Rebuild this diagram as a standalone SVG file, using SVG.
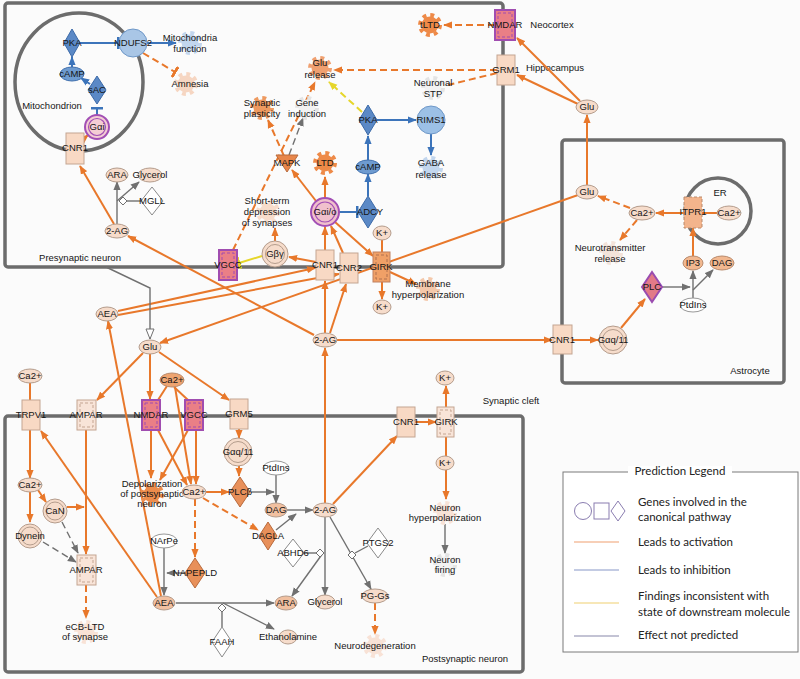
<svg xmlns="http://www.w3.org/2000/svg" width="800" height="679" viewBox="0 0 800 679">
<style>
.box{fill:none;stroke:#6c6c6c;stroke-width:3.5}
.t{font-family:"Liberation Sans",Arial,sans-serif;font-size:9.5px;fill:#151515;text-anchor:middle}
.lbl{font-family:"Liberation Sans",Arial,sans-serif;font-size:9.5px;fill:#151515}
.lg{font-family:Lato,"Liberation Sans",sans-serif;font-size:11.5px;fill:#222}
.o{stroke:#e8782b;stroke-width:2;fill:none}
.b{stroke:#3c74ba;stroke-width:2;fill:none}
.g{stroke:#707070;stroke-width:1.4;fill:none}
.y{stroke:#e6d62a;stroke-width:2;fill:none}
.d{stroke-dasharray:7 4}
.ch{fill:#f6dccb;stroke:#b49c8c;stroke-width:1}
.chm{fill:#f1c0a0;stroke:#b49c8c;stroke-width:1}
.cho{fill:#eea470;stroke:#b88a6c;stroke-width:1}
.chw{fill:#fff;stroke:#999;stroke-width:1}
.chb{fill:#6e9bd0;stroke:#3f6fad;stroke-width:1}
.rl{fill:#f8d9c4;stroke:#c4a592;stroke-width:1}
.rp{fill:#ea7f86;stroke:#a04db0;stroke-width:2}
.in{fill:none;stroke-width:1;stroke-dasharray:3 2}
.dw{fill:#fff;stroke:#8a8a8a;stroke-width:1}
.dbl{fill:#5b89c6;stroke:#3c6aa8;stroke-width:1}
.dor{fill:#e8905a;stroke:#b86a3c;stroke-width:1}
</style>
<defs>
<marker id="aO" viewBox="0 0 10 8" refX="9" refY="4" markerWidth="9" markerHeight="8" markerUnits="userSpaceOnUse" orient="auto"><path d="M0,0L10,4L0,8z" fill="#e8782b"/></marker>
<marker id="aB" viewBox="0 0 10 8" refX="9" refY="4" markerWidth="9" markerHeight="8" markerUnits="userSpaceOnUse" orient="auto"><path d="M0,0L10,4L0,8z" fill="#3c74ba"/></marker>
<marker id="aG" viewBox="0 0 10 8" refX="9" refY="4" markerWidth="9" markerHeight="8" markerUnits="userSpaceOnUse" orient="auto"><path d="M0,0L10,4L0,8z" fill="#707070"/></marker>
<marker id="aY" viewBox="0 0 10 8" refX="9" refY="4" markerWidth="9" markerHeight="8" markerUnits="userSpaceOnUse" orient="auto"><path d="M0,0L10,4L0,8z" fill="#e6d62a"/></marker>
<marker id="tB" viewBox="0 0 3 12" refX="1.5" refY="6" markerWidth="3" markerHeight="12" markerUnits="userSpaceOnUse" orient="auto"><rect width="3" height="12" fill="#3c74ba"/></marker>
<marker id="tO" viewBox="0 0 3 12" refX="1.5" refY="6" markerWidth="3" markerHeight="12" markerUnits="userSpaceOnUse" orient="auto"><rect width="3" height="12" fill="#e8782b"/></marker>
<marker id="tY" viewBox="0 0 3 12" refX="1.5" refY="6" markerWidth="3" markerHeight="12" markerUnits="userSpaceOnUse" orient="auto"><rect width="3" height="12" fill="#e6d62a"/></marker>
<marker id="tri" viewBox="0 0 12 10" refX="11" refY="5" markerWidth="12" markerHeight="10" markerUnits="userSpaceOnUse" orient="auto"><path d="M1,1L11,5L1,9z" fill="#fff" stroke="#707070" stroke-width="1"/></marker>
<g id="gear"><circle r="8.5"/><circle r="10" fill="none" stroke="currentColor" stroke-width="4" stroke-dasharray="3.9 3.95"/></g>
<path id="sd" d="M0,-4L4,0L0,4L-4,0z" fill="#fff" stroke="#707070" stroke-width="1"/>
</defs>
<rect width="800" height="679" fill="#fbfbfb"/>

<g id="compartments">
<rect class="box" x="5" y="3" width="498" height="264" rx="3"/>
<ellipse cx="79" cy="82" rx="64" ry="69" fill="none" stroke="#6c6c6c" stroke-width="3.5"/>
<rect class="box" x="562" y="140" width="222" height="243" rx="3"/>
<circle cx="718" cy="211" r="33" fill="none" stroke="#6c6c6c" stroke-width="3.5"/>
<rect class="box" x="5" y="416" width="518" height="256" rx="3"/>
<text class="t" x="52" y="109">Mitochondrion</text>
<text class="t" x="80" y="261">Presynaptic neuron</text>
<text class="t" x="552" y="28">Neocortex</text>
<text class="t" x="555" y="71">Hippocampus</text>
<text class="t" x="720" y="196">ER</text>
<text class="t" x="750" y="374">Astrocyte</text>
<text class="t" x="511" y="404">Synaptic cleft</text>
<text class="t" x="465" y="662">Postsynaptic neuron</text>
</g>

<g id="connectors">
<line class="b" x1="80" y1="43" x2="118" y2="43" marker-end="url(#tB)"/>
<line class="b" x1="147" y1="43" x2="176" y2="43" marker-end="url(#aB)"/>
<line class="o d" x1="143" y1="53" x2="175" y2="72" marker-end="url(#tO)"/>
<line class="b" x1="72" y1="67" x2="72" y2="57" marker-end="url(#aB)"/>
<line class="b" x1="90" y1="84" x2="81" y2="78" marker-end="url(#aB)"/>
<line class="b" x1="97" y1="115" x2="97" y2="108" marker-end="url(#tB)"/>
<line class="o" x1="80" y1="142" x2="88" y2="135" marker-end="url(#aO)"/>
<line class="o" x1="114" y1="224" x2="80" y2="166" marker-end="url(#aO)"/>
<line class="g" x1="117" y1="224" x2="117" y2="182" marker-end="url(#aG)"/>
<line class="g" x1="117" y1="201" x2="139" y2="182" marker-end="url(#aG)"/>
<line class="g" x1="141" y1="201" x2="127" y2="201"/>
<use href="#sd" x="123" y="201"/>
<line class="o" x1="314" y1="335" x2="128" y2="236" marker-end="url(#aO)"/>
<line class="o" x1="118" y1="311" x2="315" y2="268" marker-end="url(#aO)"/>
<line class="o" x1="118" y1="315" x2="339" y2="274" marker-end="url(#aO)"/>
<line class="o" x1="578" y1="195" x2="160" y2="343" marker-end="url(#aO)"/>
<line class="o d" x1="233" y1="250" x2="315" y2="82" marker-end="url(#aO)"/>
<line class="y" x1="262" y1="256" x2="239" y2="263" marker-end="url(#tY)"/>
<line class="o" x1="275" y1="241" x2="275" y2="228" marker-end="url(#aO)"/>
<line class="o" x1="316" y1="262" x2="289" y2="257" marker-end="url(#aO)"/>
<line class="o" x1="325" y1="250" x2="325" y2="227" marker-end="url(#aO)"/>
<line class="o" x1="343" y1="253" x2="331" y2="226" marker-end="url(#aO)"/>
<line class="o" x1="335" y1="222" x2="373" y2="256" marker-end="url(#aO)"/>
<line class="o" x1="316" y1="201" x2="292" y2="170" marker-end="url(#aO)"/>
<line class="o" x1="325" y1="198" x2="325" y2="177" marker-end="url(#aO)"/>
<line class="b" x1="339" y1="212" x2="357" y2="212" marker-end="url(#tB)"/>
<line class="b" x1="368" y1="196" x2="368" y2="174" marker-end="url(#aB)"/>
<line class="b" x1="368" y1="160" x2="368" y2="136" marker-end="url(#aB)"/>
<line class="b" x1="377" y1="120" x2="416" y2="120" marker-end="url(#aB)"/>
<line class="b" x1="431" y1="134" x2="431" y2="155" marker-end="url(#aB)"/>
<line class="y d" x1="362" y1="112" x2="329" y2="82" marker-end="url(#aY)"/>
<line class="o d" x1="284" y1="156" x2="268" y2="120" marker-end="url(#aO)"/>
<line class="g d" x1="289" y1="155" x2="303" y2="118" marker-end="url(#aG)"/>
<line class="o d" x1="497" y1="70" x2="334" y2="70" marker-end="url(#aO)"/>
<line class="o d" x1="497" y1="73" x2="448" y2="85"/>
<line class="o d" x1="495" y1="25" x2="444" y2="25" marker-end="url(#aO)"/>
<line class="o" x1="580" y1="101" x2="517" y2="38" marker-end="url(#aO)"/>
<line class="o" x1="578" y1="104" x2="517" y2="75" marker-end="url(#aO)"/>
<line class="o" x1="587" y1="185" x2="587" y2="115" marker-end="url(#aO)"/>
<line class="o" x1="382" y1="282" x2="382" y2="299" marker-end="url(#aO)"/>
<line class="o" x1="382" y1="240" x2="382" y2="252"/>
<line class="o" x1="390" y1="272" x2="416" y2="284" marker-end="url(#aO)"/>
<line class="o" x1="325" y1="333" x2="325" y2="281" marker-end="url(#aO)"/>
<line class="o" x1="330" y1="333" x2="346" y2="284" marker-end="url(#aO)"/>
<line class="o" x1="337" y1="340" x2="552" y2="340" marker-end="url(#aO)"/>
<line class="o" x1="572" y1="340" x2="598" y2="340" marker-end="url(#aO)"/>
<line class="o" x1="621" y1="328" x2="645" y2="299" marker-end="url(#aO)"/>
<line class="g" x1="662" y1="287" x2="690" y2="287" marker-end="url(#aG)"/>
<line class="g" x1="693" y1="298" x2="693" y2="271" marker-end="url(#aG)"/>
<line class="g" x1="693" y1="290" x2="713" y2="270" marker-end="url(#aG)"/>
<line class="o" x1="693" y1="256" x2="693" y2="228" marker-end="url(#aO)"/>
<line class="o" x1="717" y1="213" x2="702" y2="213"/>
<line class="o" x1="684" y1="213" x2="656" y2="213" marker-end="url(#aO)"/>
<line class="o d" x1="630" y1="208" x2="598" y2="196" marker-end="url(#aO)"/>
<line class="o d" x1="637" y1="220" x2="620" y2="240" marker-end="url(#aO)"/>
<polyline class="g" points="106,267 150,288 150,339" marker-end="url(#tri)"/>
<line class="o" x1="143" y1="353" x2="97" y2="400" marker-end="url(#aO)"/>
<line class="o" x1="150" y1="354" x2="150" y2="399" marker-end="url(#aO)"/>
<line class="o" x1="159" y1="352" x2="229" y2="400" marker-end="url(#aO)"/>
<line class="o" x1="167" y1="386" x2="158" y2="400"/>
<line class="o" x1="174" y1="387" x2="188" y2="400"/>
<line class="o" x1="175" y1="387" x2="191" y2="484" marker-end="url(#aO)"/>
<line class="o" x1="151" y1="430" x2="151" y2="478" marker-end="url(#aO)"/>
<line class="o" x1="158" y1="430" x2="187" y2="485" marker-end="url(#aO)"/>
<line class="o" x1="196" y1="430" x2="196" y2="484" marker-end="url(#aO)"/>
<line class="o" x1="188" y1="430" x2="160" y2="480" marker-end="url(#aO)"/>
<line class="o" x1="239" y1="429" x2="239" y2="438" marker-end="url(#aO)"/>
<line class="o" x1="239" y1="466" x2="239" y2="476" marker-end="url(#aO)"/>
<line class="o" x1="206" y1="492" x2="229" y2="492" marker-end="url(#aO)"/>
<line class="g" x1="251" y1="492" x2="274" y2="492" marker-end="url(#aG)"/>
<line class="g" x1="276" y1="475" x2="276" y2="503" marker-end="url(#aG)"/>
<line class="o d" x1="203" y1="498" x2="258" y2="530" marker-end="url(#aO)"/>
<line class="o d" x1="195" y1="499" x2="195" y2="557" marker-end="url(#aO)"/>
<line class="g" x1="276" y1="530" x2="296" y2="514" marker-end="url(#aG)"/>
<line class="g" x1="287" y1="510" x2="313" y2="510" marker-end="url(#aG)"/>
<line class="o" x1="325" y1="503" x2="325" y2="348" marker-end="url(#aO)"/>
<line class="o" x1="333" y1="504" x2="397" y2="436" marker-end="url(#aO)"/>
<line class="o" x1="415" y1="422" x2="436" y2="422" marker-end="url(#aO)"/>
<line class="o" x1="446" y1="407" x2="446" y2="386" marker-end="url(#aO)"/>
<line class="o" x1="446" y1="437" x2="446" y2="456"/>
<line class="o" x1="446" y1="470" x2="446" y2="499" marker-end="url(#aO)"/>
<line class="g" x1="445" y1="524" x2="445" y2="553" marker-end="url(#aG)"/>
<line class="g" x1="325" y1="517" x2="325" y2="595" marker-end="url(#aG)"/>
<line class="g" x1="323" y1="553" x2="292" y2="596" marker-end="url(#aG)"/>
<line class="g" x1="304" y1="553" x2="316" y2="553"/>
<use href="#sd" x="320" y="553"/>
<line class="g" x1="330" y1="517" x2="371" y2="589" marker-end="url(#aG)"/>
<line class="g" x1="368" y1="546" x2="355" y2="553"/>
<use href="#sd" x="352" y="555"/>
<line class="o d" x1="375" y1="603" x2="375" y2="634" marker-end="url(#aO)"/>
<line class="g" x1="164" y1="548" x2="164" y2="595" marker-end="url(#aG)"/>
<line class="g" x1="185" y1="573" x2="167" y2="573" marker-end="url(#aG)"/>
<line class="g" x1="176" y1="603" x2="274" y2="603" marker-end="url(#aG)"/>
<line class="g" x1="223" y1="603" x2="274" y2="629" marker-end="url(#aG)"/>
<line class="g" x1="222" y1="627" x2="222" y2="612"/>
<use href="#sd" x="222" y="608"/>
<line class="o" x1="161" y1="596" x2="108" y2="321" marker-end="url(#aO)"/>
<line class="o" x1="157" y1="597" x2="41" y2="431" marker-end="url(#aO)"/>
<line class="o" x1="30" y1="383" x2="30" y2="400"/>
<line class="o" x1="30" y1="430" x2="30" y2="478" marker-end="url(#aO)"/>
<line class="o" x1="38" y1="490" x2="46" y2="502" marker-end="url(#aO)"/>
<line class="o" x1="30" y1="492" x2="30" y2="522" marker-end="url(#aO)"/>
<line class="o" x1="67" y1="507" x2="84" y2="507" marker-end="url(#aO)"/>
<line class="o" x1="86" y1="430" x2="86" y2="554" marker-end="url(#aO)"/>
<line class="g d" x1="62" y1="522" x2="78" y2="553" marker-end="url(#aG)"/>
<line class="g d" x1="43" y1="542" x2="76" y2="562" marker-end="url(#aG)"/>
<line class="o d" x1="86" y1="585" x2="86" y2="618" marker-end="url(#aO)"/>
</g>

<g id="n-PKA-m"><path class="dbl" d="M72,29L80,43L72,57L64,43z" fill="#7ba3d3"/><text class="t" x="72" y="46">PKA</text></g>
<g id="n-NDUFS2"><circle cx="133" cy="43" r="14" fill="#a9c6e6" stroke="#6f98c8"/><text class="t" x="133" y="46">NDUFS2</text></g>
<g id="n-mitofn"><use href="#gear" x="190" y="43" fill="#c2d6ee" color="#c2d6ee"/><text class="t" x="190" y="41">Mitochondria</text><text class="t" x="190" y="52">function</text></g>
<g id="n-amnesia"><use href="#gear" x="186" y="84" fill="#f6d6c2" color="#f6d6c2"/><text class="t" x="190" y="87">Amnesia</text></g>
<g id="n-cAMP-m"><ellipse class="chb" cx="72" cy="74" rx="12" ry="7"/><text class="t" x="72" y="77">cAMP</text></g>
<g id="n-sAC"><path class="dbl" d="M97,76L106,90L97,104L88,90z"/><text class="t" x="97" y="93">sAC</text></g>
<g id="n-Gai"><circle cx="97" cy="127" r="12" fill="#f4cdd4" stroke="#a24fb5" stroke-width="2"/><circle cx="97" cy="127" r="8.5" fill="none" stroke="#a24fb5" stroke-width="1.2"/><text class="t" x="97" y="130">Gαi</text></g>
<g id="n-CNR1-m"><rect class="rl" x="66" y="133" width="18" height="31"/><text class="t" x="75" y="151">CNR1</text></g>
<g id="n-ARA-p"><ellipse class="ch" cx="117" cy="175" rx="11" ry="7"/><text class="t" x="117" y="178">ARA</text></g>
<g id="n-Glycerol-p"><ellipse class="ch" cx="150" cy="175" rx="12" ry="7"/><text class="t" x="150" y="178">Glycerol</text></g>
<g id="n-MGLL"><path class="dw" d="M152,187L163,201L152,215L141,201z"/><text class="t" x="152" y="204">MGLL</text></g>
<g id="n-2AG-p"><ellipse class="ch" cx="117" cy="231" rx="12" ry="7"/><text class="t" x="117" y="234">2-AG</text></g>
<g id="n-VGCC-p"><rect class="rp" x="219" y="250" width="18" height="30"/><rect class="in" x="222" y="253" width="12" height="24" stroke="#a04db0"/><text class="t" x="228" y="268">VGCC</text></g>
<g id="n-Gbg"><circle cx="275" cy="254" r="13" fill="#f6dccb" stroke="#b49c8c"/><circle cx="275" cy="254" r="9.5" fill="none" stroke="#b49c8c"/><text class="t" x="275" y="257">Gβγ</text></g>
<g id="n-STD"><use href="#gear" x="268" y="212" fill="#f7dccb" color="#f7dccb"/><text class="t" x="267" y="204">Short-term</text><text class="t" x="267" y="215">depression</text><text class="t" x="267" y="226">of synapses</text></g>
<g id="n-synplast"><use href="#gear" x="262" y="108" fill="#ee9a60" color="#ee9a60"/><text class="t" x="262" y="106">Synaptic</text><text class="t" x="262" y="117">plasticity</text></g>
<g id="n-geneind"><use href="#gear" x="307" y="108" fill="#f2f2f2" color="#e4e4e4"/><text class="t" x="307" y="106">Gene</text><text class="t" x="307" y="117">induction</text></g>
<g id="n-glurel"><use href="#gear" x="320" y="68" fill="#f0a070" color="#f0a070"/><text class="t" x="320" y="66">Glu</text><text class="t" x="320" y="78">release</text></g>
<g id="n-MAPK"><path d="M276,155L298,155L287,172z" fill="#e8864a" stroke="#b86a3c"/><text class="t" x="287" y="166">MAPK</text></g>
<g id="n-LTD-p"><use href="#gear" x="325" y="163" fill="#ee8a48" color="#ee8a48"/><text class="t" x="325" y="166">LTD</text></g>
<g id="n-cAMP-p"><ellipse class="chb" cx="368" cy="167" rx="12" ry="7"/><text class="t" x="368" y="170">cAMP</text></g>
<g id="n-PKA-p"><path class="dbl" d="M368,105L377,120L368,135L359,120z" fill="#7ba3d3"/><text class="t" x="368" y="123">PKA</text></g>
<g id="n-RIMS1"><circle cx="431" cy="120" r="14" fill="#9cc0e6" stroke="#6f98c8"/><text class="t" x="431" y="123">RIMS1</text></g>
<g id="n-GABArel"><use href="#gear" x="431" y="168" fill="#c2d6ee" color="#c2d6ee"/><text class="t" x="431" y="166">GABA</text><text class="t" x="431" y="178">release</text></g>
<g id="n-tLTD"><use href="#gear" x="430" y="25" fill="#ee8a48" color="#ee8a48"/><text class="t" x="430" y="28">tLTD</text></g>
<g id="n-NMDAR-p"><rect class="rp" x="495" y="10" width="20" height="30"/><rect class="in" x="498" y="13" width="14" height="24" stroke="#a04db0"/><text class="t" x="505" y="28">NMDAR</text></g>
<g id="n-GRM1"><rect class="rl" x="497" y="55" width="18" height="30"/><text class="t" x="506" y="73">GRM1</text></g>
<g id="n-STP"><use href="#gear" x="433" y="88" fill="#f2f2f2" color="#e4e4e4"/><text class="t" x="433" y="86">Neuronal</text><text class="t" x="433" y="97">STP</text></g>
<g id="n-Glu-top"><ellipse class="ch" cx="587" cy="107" rx="11" ry="7"/><text class="t" x="587" y="110">Glu</text></g>
<g id="n-Gaio"><circle cx="325" cy="212" r="14" fill="#f0c0cc" stroke="#a24fb5" stroke-width="2"/><circle cx="325" cy="212" r="10" fill="none" stroke="#a24fb5" stroke-width="1.2"/><text class="t" x="325" y="215">Gαi/o</text></g>
<g id="n-ADCY"><path class="dbl" d="M368,196L378,212L368,228L358,212z"/><text class="t" x="370" y="215">ADCY</text></g>
<g id="n-CNR1-p"><rect class="rl" x="316" y="250" width="18" height="30"/><text class="t" x="325" y="268">CNR1</text></g>
<g id="n-CNR2"><rect class="rl" x="340" y="253" width="18" height="30"/><text class="t" x="349" y="271">CNR2</text></g>
<g id="n-GIRK-p"><rect x="373" y="252" width="17" height="30" fill="#f0a067" stroke="#c08060"/><rect class="in" x="376" y="255" width="11" height="24" stroke="#b07050"/><text class="t" x="381" y="270">GIRK</text></g>
<g id="n-K-p1"><ellipse class="ch" cx="382" cy="233" rx="9" ry="7"/><text class="t" x="382" y="236">K+</text></g>
<g id="n-K-p2"><ellipse class="ch" cx="382" cy="307" rx="9" ry="7"/><text class="t" x="382" y="310">K+</text></g>
<g id="n-memhyp"><use href="#gear" x="428" y="289" fill="#f4c8aa" color="#f4c8aa"/><text class="t" x="428" y="287">Membrane</text><text class="t" x="428" y="298">hyperpolarization</text></g>

<g id="n-Glu-a"><ellipse class="ch" cx="587" cy="192" rx="11" ry="7"/><text class="t" x="587" y="195">Glu</text></g>
<g id="n-Ca-a"><ellipse class="ch" cx="642" cy="213" rx="13" ry="7"/><text class="t" x="642" y="216">Ca2+</text></g>
<g id="n-ITPR1"><rect x="684" y="197" width="18" height="31" fill="#f3b48c" stroke="#b88a6c" stroke-dasharray="3 2"/><text class="t" x="693" y="215">ITPR1</text></g>
<g id="n-Ca-ER"><ellipse class="ch" cx="729" cy="213" rx="12" ry="7"/><text class="t" x="729" y="216">Ca2+</text></g>
<g id="n-NTrel"><use href="#gear" x="611" y="253" fill="#f3e3da" color="#f3e3da"/><text class="t" x="610" y="251">Neurotransmitter</text><text class="t" x="610" y="262">release</text></g>
<g id="n-IP3"><ellipse cx="693" cy="263" rx="10" ry="7" fill="#f2b890" stroke="#b88a6c"/><text class="t" x="693" y="266">IP3</text></g>
<g id="n-DAG-a"><ellipse cx="722" cy="263" rx="12" ry="7" fill="#f2b890" stroke="#b88a6c"/><text class="t" x="722" y="266">DAG</text></g>
<g id="n-PLC"><path d="M652,272L662,287L652,302L642,287z" fill="#e27a88" stroke="#9a4cb0" stroke-width="2"/><text class="t" x="652" y="290">PLC</text></g>
<g id="n-PtdIns-a"><ellipse class="chw" cx="693" cy="305" rx="13" ry="7"/><text class="t" x="693" y="308">PtdIns</text></g>
<g id="n-CNR1-a"><rect class="rl" x="553" y="325" width="19" height="29"/><text class="t" x="562" y="343">CNR1</text></g>
<g id="n-Gaq-a"><circle cx="613" cy="340" r="14" fill="#f6dccb" stroke="#b49c8c"/><circle cx="613" cy="340" r="10.5" fill="none" stroke="#b49c8c"/><text class="t" x="613" y="343">Gαq/11</text></g>

<g id="n-AEA-c"><ellipse class="ch" cx="107" cy="314" rx="11" ry="7"/><text class="t" x="107" y="317">AEA</text></g>
<g id="n-Glu-c"><ellipse class="ch" cx="150" cy="347" rx="11" ry="7"/><text class="t" x="150" y="350">Glu</text></g>
<g id="n-2AG-c"><ellipse class="ch" cx="325" cy="340" rx="12" ry="7"/><text class="t" x="325" y="343">2-AG</text></g>

<g id="n-Ca-tl"><ellipse class="ch" cx="30" cy="376" rx="12" ry="7"/><text class="t" x="30" y="379">Ca2+</text></g>
<g id="n-TRPV1"><rect class="rl" x="22" y="400" width="18" height="30"/><text class="t" x="31" y="418">TRPV1</text></g>
<g id="n-AMPAR-c"><rect x="77" y="400" width="19" height="30" fill="#f8e4d8" stroke="#c4a592"/><rect class="in" x="80" y="403" width="13" height="24" stroke="#c4a592"/><text class="t" x="86" y="418">AMPAR</text></g>
<g id="n-NMDAR-post"><rect class="rp" x="142" y="400" width="18" height="30"/><rect class="in" x="145" y="403" width="12" height="24" stroke="#a04db0"/><text class="t" x="151" y="418">NMDAR</text></g>
<g id="n-Ca-c"><ellipse class="cho" cx="172" cy="380" rx="12" ry="7"/><text class="t" x="172" y="383">Ca2+</text></g>
<g id="n-VGCC-post"><rect class="rp" x="185" y="400" width="18" height="30"/><rect class="in" x="188" y="403" width="12" height="24" stroke="#a04db0"/><text class="t" x="194" y="418">VGCC</text></g>
<g id="n-GRM5"><rect class="rl" x="230" y="399" width="18" height="30"/><text class="t" x="239" y="417">GRM5</text></g>
<g id="n-Gaq-post"><circle cx="238" cy="452" r="14" fill="#f6dccb" stroke="#b49c8c"/><circle cx="238" cy="452" r="10.5" fill="none" stroke="#b49c8c"/><text class="t" x="238" y="455">Gαq/11</text></g>
<g id="n-Ca-l"><ellipse class="ch" cx="30" cy="485" rx="12" ry="7"/><text class="t" x="30" y="488">Ca2+</text></g>
<g id="n-CaN"><circle cx="55" cy="511" r="12" fill="#f6dccb" stroke="#b49c8c"/><circle cx="55" cy="511" r="9" fill="none" stroke="#b49c8c"/><text class="t" x="55" y="514">CaN</text></g>
<g id="n-Dynein"><circle cx="30" cy="536" r="12" fill="#f6dccb" stroke="#b49c8c"/><circle cx="30" cy="536" r="9" fill="none" stroke="#b49c8c"/><text class="t" x="30" y="539">Dynein</text></g>
<g id="n-depol"><use href="#gear" x="152" y="494" fill="#ec8c4c" color="#ec8c4c"/><text class="t" x="152" y="487">Depolarization</text><text class="t" x="152" y="497">of postsynaptic</text><text class="t" x="152" y="507">neuron</text></g>
<g id="n-Ca-post"><ellipse class="ch" cx="194" cy="492" rx="12" ry="7"/><text class="t" x="194" y="495">Ca2+</text></g>
<g id="n-PLCb"><path class="dor" d="M240,477L250,492L240,507L230,492z"/><text class="t" x="240" y="495">PLCβ</text></g>
<g id="n-PtdIns-post"><ellipse class="chw" cx="276" cy="468" rx="13" ry="7"/><text class="t" x="276" y="471">PtdIns</text></g>
<g id="n-DAG-post"><ellipse class="chm" cx="276" cy="510" rx="11" ry="7"/><text class="t" x="276" y="513">DAG</text></g>
<g id="n-DAGLA"><path class="dor" d="M268,522L277,536L268,550L259,536z"/><text class="t" x="268" y="539">DAGLA</text></g>
<g id="n-2AG-post"><ellipse class="ch" cx="325" cy="510" rx="12" ry="7"/><text class="t" x="325" y="513">2-AG</text></g>
<g id="n-NArPe"><ellipse class="chw" cx="164" cy="541" rx="13" ry="7"/><text class="t" x="164" y="544">NArPe</text></g>
<g id="n-NAPEPLD"><path class="dor" d="M195,558L205,573L195,588L185,573z"/><text class="t" x="195" y="576">NAPEPLD</text></g>
<g id="n-AEA-post"><ellipse class="chm" cx="164" cy="603" rx="11" ry="7"/><text class="t" x="164" y="606">AEA</text></g>
<g id="n-AMPAR-post"><rect x="77" y="555" width="19" height="30" fill="#f8e4d8" stroke="#c4a592"/><rect class="in" x="80" y="558" width="13" height="24" stroke="#c4a592"/><text class="t" x="86" y="573">AMPAR</text></g>
<g id="n-eCBLTD"><use href="#gear" x="86" y="632" fill="#f8e2d6" color="#f8e2d6"/><text class="t" x="85" y="630">eCB-LTD</text><text class="t" x="85" y="640">of synapse</text></g>
<g id="n-ABHD6"><path class="dw" d="M293,539L304,553L293,567L282,553z"/><text class="t" x="293" y="556">ABHD6</text></g>
<g id="n-PTGS2"><path class="dw" d="M378,528L389,543L378,558L367,543z"/><text class="t" x="378" y="546">PTGS2</text></g>
<g id="n-ARA-post"><ellipse class="chm" cx="286" cy="603" rx="11" ry="7"/><text class="t" x="286" y="606">ARA</text></g>
<g id="n-Glycerol-post"><ellipse class="ch" cx="325" cy="602" rx="10" ry="7"/><text class="t" x="325" y="605">Glycerol</text></g>
<g id="n-PGGs"><ellipse class="ch" cx="375" cy="596" rx="13" ry="7"/><text class="t" x="375" y="599">PG-Gs</text></g>
<g id="n-neurodeg"><use href="#gear" x="375" y="646" fill="#f8e2d6" color="#f8e2d6"/><text class="t" x="375" y="649">Neurodegeneration</text></g>
<g id="n-FAAH"><path class="dw" d="M222,627L232,642L222,657L212,642z"/><text class="t" x="222" y="645">FAAH</text></g>
<g id="n-Ethanolamine"><ellipse class="ch" cx="288" cy="637" rx="9" ry="7"/><text class="t" x="288" y="640">Ethanolamine</text></g>
<g id="n-CNR1-post"><rect class="rl" x="397" y="407" width="18" height="30"/><text class="t" x="406" y="425">CNR1</text></g>
<g id="n-GIRK-post"><rect x="437" y="407" width="17" height="30" fill="#f8e4d8" stroke="#c4a592"/><rect class="in" x="440" y="410" width="11" height="24" stroke="#c4a592"/><text class="t" x="446" y="425">GIRK</text></g>
<g id="n-K-post1"><ellipse class="ch" cx="445" cy="378" rx="9" ry="7"/><text class="t" x="445" y="381">K+</text></g>
<g id="n-K-post2"><ellipse class="ch" cx="445" cy="463" rx="9" ry="7"/><text class="t" x="445" y="466">K+</text></g>
<g id="n-neurhyp"><use href="#gear" x="445" y="513" fill="#f8e2d6" color="#f8e2d6"/><text class="t" x="445" y="511">Neuron</text><text class="t" x="445" y="521">hyperpolarization</text></g>
<g id="n-neurfire"><use href="#gear" x="445" y="565" fill="#f2f2f2" color="#e4e4e4"/><text class="t" x="445" y="563">Neuron</text><text class="t" x="445" y="573">firing</text></g>

<g id="legend">
<rect x="563" y="472" width="235" height="180" fill="#fff" stroke="#7a7a7a" stroke-width="1"/>
<rect x="628" y="466" width="104" height="12" fill="#fff"/>
<text class="lg" x="680" y="475" text-anchor="middle">Prediction Legend</text>
<circle cx="583" cy="511" r="8.5" fill="none" stroke="#8a7db0"/>
<rect x="594" y="503" width="15" height="16" fill="none" stroke="#8a7db0"/>
<path d="M618,501L625,511L618,521L611,511z" fill="none" stroke="#8a7db0"/>
<text class="lg" x="638" y="506">Genes involved in the</text>
<text class="lg" x="638" y="521">canonical pathway</text>
<line x1="574" y1="542" x2="619" y2="542" stroke="#f0a070" stroke-width="1.2"/>
<text class="lg" x="638" y="546">Leads to activation</text>
<line x1="574" y1="570" x2="619" y2="570" stroke="#8898c8" stroke-width="1.2"/>
<text class="lg" x="638" y="574">Leads to inhibition</text>
<line x1="574" y1="603" x2="619" y2="603" stroke="#f0d070" stroke-width="1.2"/>
<text class="lg" x="638" y="600">Findings inconsistent with</text>
<text class="lg" x="638" y="616">state of downstream molecule</text>
<line x1="574" y1="636" x2="619" y2="636" stroke="#8888aa" stroke-width="1.2"/>
<text class="lg" x="638" y="639">Effect not predicted</text>
</g>
</svg>
